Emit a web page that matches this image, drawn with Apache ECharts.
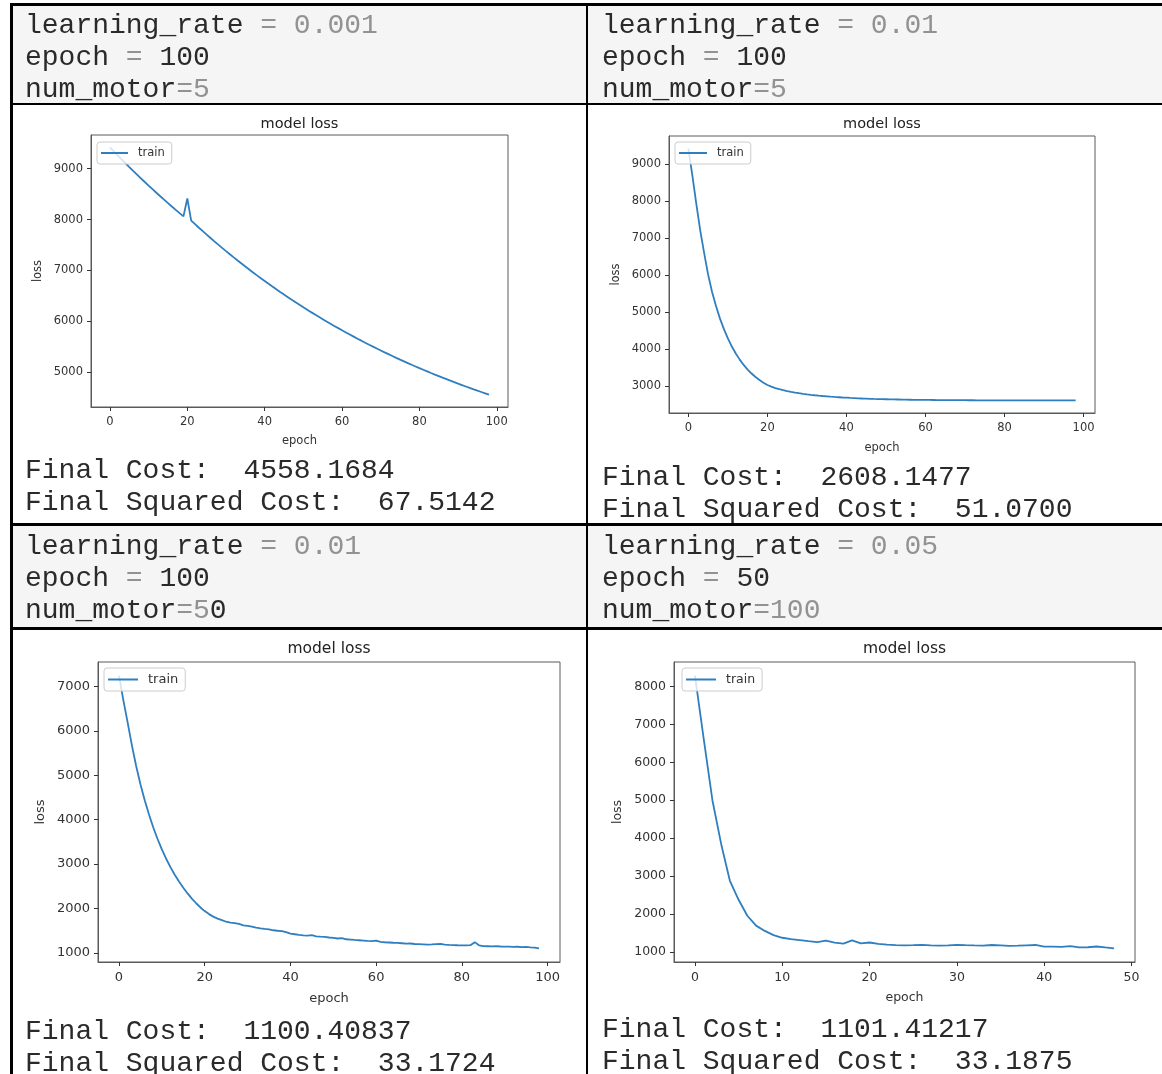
<!DOCTYPE html>
<html>
<head>
<meta charset="utf-8">
<script src="https://cdn.jsdelivr.net/npm/echarts@6/dist/echarts.min.js"></script>
<style>
body { margin: 0; width: 1162px; height: 1074px; overflow: hidden; background: #fff; position: relative; }
#chart { position: absolute; left: 0; top: 0; width: 1162px; height: 1074px; }
.bar { position: absolute; background: #000; }
.head { position: absolute; background: #f5f5f5; }
.code { position: absolute; font-family: 'Liberation Mono', monospace; font-size: 28px; line-height: 32px; color: #2a2a2a; white-space: pre; }
.g { color: #929292; }
</style>
</head>
<body>
<div class="head" style="left:13px;top:6px;width:573px;height:97px"></div>
<div class="head" style="left:588px;top:6px;width:574px;height:97px"></div>
<div class="head" style="left:13px;top:526px;width:573px;height:101px"></div>
<div class="head" style="left:588px;top:526px;width:574px;height:101px"></div>
<div id="chart"></div>
<div class="bar" style="left:10px;top:3px;width:1152px;height:3px"></div>
<div class="bar" style="left:10px;top:3px;width:3px;height:1071px"></div>
<div class="bar" style="left:586px;top:3px;width:2px;height:1071px"></div>
<div class="bar" style="left:10px;top:103px;width:1152px;height:2px"></div>
<div class="bar" style="left:10px;top:523px;width:1152px;height:3px"></div>
<div class="bar" style="left:10px;top:627px;width:1152px;height:3px"></div>

<div class="code" style="left:25px;top:10px">learning_rate<span class="g"> = 0.001</span>
epoch<span class="g"> = </span>100
num_motor<span class="g">=5</span></div>
<div class="code" style="left:602px;top:10px">learning_rate<span class="g"> = 0.01</span>
epoch<span class="g"> = </span>100
num_motor<span class="g">=5</span></div>
<div class="code" style="left:25px;top:531px">learning_rate<span class="g"> = 0.01</span>
epoch<span class="g"> = </span>100
num_motor<span class="g">=5</span>0</div>
<div class="code" style="left:602px;top:531px">learning_rate<span class="g"> = 0.05</span>
epoch<span class="g"> = </span>50
num_motor<span class="g">=100</span></div>

<div class="code" id="cost0" style="left:25px;top:455px"></div>
<div class="code" id="cost1" style="left:602px;top:462px"></div>
<div class="code" id="cost2" style="left:25px;top:1016px"></div>
<div class="code" id="cost3" style="left:602px;top:1014px"></div>

<script>
// loss per epoch
var lossLr001 = [
    9420, 9341, 9262, 9185, 9109, 9033, 8958, 8885, 8812, 8739,
    8668, 8598, 8528, 8459, 8391, 8324, 8257, 8192, 8127, 8063,
    8414, 7980, 7910, 7840, 7772, 7705, 7638, 7572, 7507, 7443,
    7380, 7318, 7256, 7195, 7135, 7076, 7018, 6960, 6903, 6847,
    6792, 6737, 6683, 6630, 6577, 6525, 6474, 6423, 6373, 6324,
    6276, 6228, 6180, 6134, 6088, 6042, 5997, 5953, 5909, 5866,
    5823, 5781, 5740, 5699, 5658, 5619, 5579, 5540, 5502, 5464,
    5427, 5390, 5354, 5318, 5282, 5247, 5213, 5179, 5145, 5112,
    5079, 5047, 5015, 4983, 4952, 4922, 4891, 4862, 4832, 4803,
    4774, 4746, 4718, 4690, 4663, 4636, 4610, 4584, 4558
];
var lossLr01 = [
    9420, 8700, 7930, 7210, 6590, 6010, 5540, 5160, 4820, 4535,
    4285, 4065, 3876, 3711, 3568, 3443, 3335, 3240, 3158, 3087,
    3025, 2980, 2943, 2911, 2884, 2860, 2839, 2820, 2803, 2787,
    2773, 2760, 2748, 2737, 2727, 2718, 2709, 2701, 2694, 2687,
    2681, 2675, 2670, 2665, 2660, 2656, 2652, 2648, 2645, 2642,
    2639, 2636, 2634, 2632, 2630, 2628, 2626, 2624, 2623, 2622,
    2621, 2620, 2619, 2618, 2617, 2616, 2615, 2614, 2614, 2613,
    2613, 2612, 2612, 2611, 2611, 2611, 2610, 2610, 2610, 2610,
    2609, 2609, 2609, 2609, 2609, 2609, 2609, 2609, 2609, 2609,
    2609, 2608, 2608, 2608, 2608, 2608, 2608, 2608, 2608
];
var lossLr01M50 = [
    7246, 6700, 6200, 5680, 5210, 4800, 4440, 4115, 3825, 3565,
    3330, 3120, 2930, 2760, 2605, 2465, 2338, 2222, 2117, 2022,
    1940, 1872, 1815, 1770, 1735, 1700, 1678, 1668, 1650, 1620,
    1606, 1590, 1566, 1552, 1540, 1530, 1508, 1497, 1488, 1465,
    1430, 1418, 1405, 1395, 1388, 1400, 1372, 1365, 1360, 1345,
    1335, 1322, 1330, 1305, 1298, 1290, 1283, 1276, 1268, 1262,
    1275, 1245, 1238, 1232, 1226, 1222, 1215, 1205, 1210, 1198,
    1194, 1190, 1186, 1190, 1196, 1200, 1182, 1178, 1175, 1170,
    1168, 1166, 1172, 1240, 1168, 1150, 1148, 1146, 1150, 1142,
    1140, 1138, 1132, 1136, 1128, 1132, 1124, 1118, 1100
];
var lossLr05M100 = [
    8280, 6620, 5000, 3850, 2880, 2380, 1960, 1700, 1560, 1450,
    1380, 1345, 1320, 1290, 1265, 1305, 1250, 1225, 1310, 1230,
    1255, 1220, 1200, 1185, 1180, 1185, 1195, 1182, 1175, 1180,
    1195, 1185, 1178, 1175, 1190, 1180, 1168, 1172, 1182, 1190,
    1148, 1145, 1142, 1162, 1125, 1130, 1150, 1125, 1101
];

var xTicks100 = [0, 20, 40, 60, 80, 100];
var xTicks50 = [0, 10, 20, 30, 40, 50];
var yTicksA = [5000, 6000, 7000, 8000, 9000];
var yTicksB = [3000, 4000, 5000, 6000, 7000, 8000, 9000];
var yTicksC = [1000, 2000, 3000, 4000, 5000, 6000, 7000];
var yTicksD = [1000, 2000, 3000, 4000, 5000, 6000, 7000, 8000];

var finalCost = ['4558.1684', '2608.1477', '1100.40837', '1101.41217'];
var finalSquared = ['67.5142', '51.0700', '33.1724', '33.1875'];

for (var c = 0; c < 4; c++) {
    document.getElementById('cost' + c).textContent =
        'Final Cost:  ' + finalCost[c] + '\nFinal Squared Cost:  ' + finalSquared[c];
}

var panels = [
    { data: lossLr001, xTicks: xTicks100, yTicks: yTicksA, box: [91, 135, 417, 272], font: 11.5, tSize: 14.5, tTop: 117, yGap: 47, xGap: 28, lg: [97, 142, 27] },
    { data: lossLr01, xTicks: xTicks100, yTicks: yTicksB, box: [669, 136, 426, 277], font: 11.5, tSize: 14.5, tTop: 117, yGap: 47, xGap: 29, lg: [675, 142, 28] },
    { data: lossLr01M50, xTicks: xTicks100, yTicks: yTicksC, box: [98, 662, 462, 300], font: 13, tSize: 15.5, tTop: 641, yGap: 51, xGap: 30, lg: [104, 668, 30] },
    { data: lossLr05M100, xTicks: xTicks50, yTicks: yTicksD, box: [674, 662, 461, 300], font: 12.5, tSize: 15.5, tTop: 641, yGap: 50, xGap: 29, lg: [682, 668, 30] }
];

function lo(v) { return v.min - 0.05 * (v.max - v.min); }
function hi(v) { return v.max + 0.05 * (v.max - v.min); }
function plain(v) { return String(v); }

var myChart = echarts.init(document.getElementById('chart'));
var option = {
    animation: false,
    title: [], legend: [], grid: [], xAxis: [], yAxis: [], series: []
};

panels.forEach(function (p, i) {
    var txt = { fontFamily: 'DejaVu Sans', fontSize: p.font, color: '#333' };
    var frame = { show: true, onZero: false, lineStyle: { color: '#5a5a5a', width: 1 } };
    var tick = { color: '#333', width: 1 };
    option.grid.push({
        left: p.box[0], top: p.box[1], width: p.box[2], height: p.box[3],
        show: true, borderColor: '#5a5a5a', borderWidth: 1, backgroundColor: 'transparent'
    });
    option.title.push({
        text: 'model loss', left: p.box[0] + p.box[2] / 2, top: p.tTop, textAlign: 'center', padding: 0,
        textStyle: { fontFamily: 'DejaVu Sans', fontSize: p.tSize, fontWeight: 'normal', color: '#222' }
    });
    option.legend.push({
        data: ['train'], left: p.lg[0], top: p.lg[1], icon: 'rect', itemWidth: p.lg[2], itemHeight: 2,
        padding: [5, 7, 5, 4], selectedMode: false,
        backgroundColor: 'rgba(255,255,255,0.8)', borderColor: '#cccccc', borderWidth: 1, borderRadius: 3,
        textStyle: { fontFamily: 'DejaVu Sans', fontSize: p.font, color: '#333', padding: [0, 0, 0, 5] }
    });
    option.xAxis.push({
        gridIndex: i, type: 'value', min: lo, max: hi,
        axisLine: frame, splitLine: { show: false },
        axisTick: { show: true, inside: false, length: 4, lineStyle: tick, customValues: p.xTicks },
        axisLabel: Object.assign({ customValues: p.xTicks, margin: 9, formatter: plain }, txt),
        name: 'epoch', nameLocation: 'middle', nameGap: p.xGap, nameTextStyle: txt
    });
    option.yAxis.push({
        gridIndex: i, type: 'value', min: lo, max: hi,
        axisLine: frame, splitLine: { show: false },
        axisTick: { show: true, inside: false, length: 4, lineStyle: tick, customValues: p.yTicks },
        axisLabel: Object.assign({ customValues: p.yTicks, margin: 8, formatter: plain }, txt),
        name: 'loss', nameLocation: 'middle', nameRotate: 90, nameGap: p.yGap, nameTextStyle: txt
    });
    option.series.push({
        name: 'train', type: 'line', xAxisIndex: i, yAxisIndex: i, symbol: 'none',
        lineStyle: { color: '#2f7fc0', width: 1.8 }, itemStyle: { color: '#2f7fc0' },
        data: p.data.map(function (v, e) { return [e, v]; })
    });
});

myChart.setOption(option);
</script>
</body>
</html>
